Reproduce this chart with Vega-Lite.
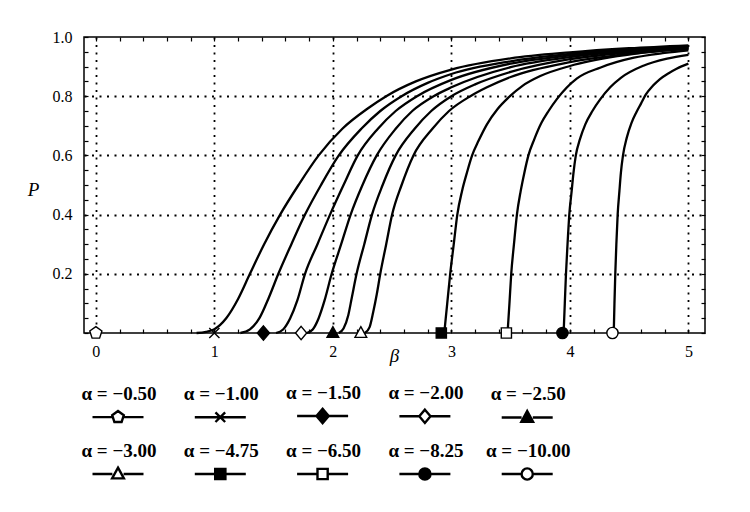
{
  "$schema": "https://vega.github.io/schema/vega-lite/v6.json",
  "width": 621,
  "height": 296,
  "autosize": {"type": "none"},
  "padding": {"left": 84, "top": 37, "right": 45, "bottom": 179},
  "background": "white",
  "config": {
    "view": {"stroke": "black", "strokeWidth": 1.5},
    "font": "Liberation Serif",
    "style": {"guide-label": {"lineHeight": 46}},
    "axis": {"labelFont": "Liberation Serif", "labelFontSize": 16, "labelColor": "black", "tickColor": "black", "tickWidth": 1.2, "domain": false, "labelOverlap": false, "titleFont": "Liberation Serif", "titleColor": "black"},
    "legend": {
      "symbolSize": 2601,
      "symbolStrokeWidth": 2.4,
      "labelFont": "Liberation Serif",
      "labelFontSize": 19,
      "labelFontWeight": "bold",
      "labelColor": "black",
      "labelAlign": "center",
      "labelBaseline": "line-bottom",
      "labelOffset": -26,
      "labelLimit": 0,
      "gridAlign": "all",
      "columnPadding": 16.3,
      "rowPadding": 14
    }
  },
  "datasets": {
    "curves": [
      {"alpha": -0.5, "beta": 0.85, "P": 0}, {"alpha": -0.5, "beta": 0.93, "P": 0.004}, {"alpha": -0.5, "beta": 1.0, "P": 0.013}, {"alpha": -0.5, "beta": 1.1, "P": 0.05}, {"alpha": -0.5, "beta": 1.2, "P": 0.115}, {"alpha": -0.5, "beta": 1.3, "P": 0.2}, {"alpha": -0.5, "beta": 1.42, "P": 0.3}, {"alpha": -0.5, "beta": 1.555, "P": 0.4}, {"alpha": -0.5, "beta": 1.71, "P": 0.5}, {"alpha": -0.5, "beta": 1.88, "P": 0.6}, {"alpha": -0.5, "beta": 2.08, "P": 0.69}, {"alpha": -0.5, "beta": 2.3, "P": 0.76}, {"alpha": -0.5, "beta": 2.45, "P": 0.8}, {"alpha": -0.5, "beta": 2.7, "P": 0.85}, {"alpha": -0.5, "beta": 3.0, "P": 0.89}, {"alpha": -0.5, "beta": 3.5, "P": 0.928}, {"alpha": -0.5, "beta": 4.0, "P": 0.948}, {"alpha": -0.5, "beta": 4.5, "P": 0.962}, {"alpha": -0.5, "beta": 5.0, "P": 0.972},
      {"alpha": -1, "beta": 1.22, "P": 0}, {"alpha": -1, "beta": 1.3, "P": 0.012}, {"alpha": -1, "beta": 1.38, "P": 0.05}, {"alpha": -1, "beta": 1.46, "P": 0.12}, {"alpha": -1, "beta": 1.54, "P": 0.2}, {"alpha": -1, "beta": 1.65, "P": 0.3}, {"alpha": -1, "beta": 1.765, "P": 0.4}, {"alpha": -1, "beta": 1.9, "P": 0.5}, {"alpha": -1, "beta": 2.05, "P": 0.6}, {"alpha": -1, "beta": 2.24, "P": 0.69}, {"alpha": -1, "beta": 2.4, "P": 0.75}, {"alpha": -1, "beta": 2.58, "P": 0.8}, {"alpha": -1, "beta": 2.8, "P": 0.845}, {"alpha": -1, "beta": 3.0, "P": 0.875}, {"alpha": -1, "beta": 3.5, "P": 0.918}, {"alpha": -1, "beta": 4.0, "P": 0.943}, {"alpha": -1, "beta": 4.5, "P": 0.958}, {"alpha": -1, "beta": 5.0, "P": 0.969},
      {"alpha": -1.5, "beta": 1.52, "P": 0}, {"alpha": -1.5, "beta": 1.58, "P": 0.012}, {"alpha": -1.5, "beta": 1.64, "P": 0.05}, {"alpha": -1.5, "beta": 1.7, "P": 0.11}, {"alpha": -1.5, "beta": 1.765, "P": 0.2}, {"alpha": -1.5, "beta": 1.87, "P": 0.3}, {"alpha": -1.5, "beta": 1.976, "P": 0.4}, {"alpha": -1.5, "beta": 2.09, "P": 0.5}, {"alpha": -1.5, "beta": 2.21, "P": 0.6}, {"alpha": -1.5, "beta": 2.38, "P": 0.69}, {"alpha": -1.5, "beta": 2.53, "P": 0.75}, {"alpha": -1.5, "beta": 2.71, "P": 0.8}, {"alpha": -1.5, "beta": 3.0, "P": 0.855}, {"alpha": -1.5, "beta": 3.5, "P": 0.91}, {"alpha": -1.5, "beta": 4.0, "P": 0.938}, {"alpha": -1.5, "beta": 4.5, "P": 0.955}, {"alpha": -1.5, "beta": 5.0, "P": 0.967},
      {"alpha": -2, "beta": 1.78, "P": 0}, {"alpha": -2, "beta": 1.83, "P": 0.012}, {"alpha": -2, "beta": 1.88, "P": 0.05}, {"alpha": -2, "beta": 1.93, "P": 0.11}, {"alpha": -2, "beta": 1.99, "P": 0.2}, {"alpha": -2, "beta": 2.07, "P": 0.3}, {"alpha": -2, "beta": 2.15, "P": 0.4}, {"alpha": -2, "beta": 2.25, "P": 0.5}, {"alpha": -2, "beta": 2.37, "P": 0.6}, {"alpha": -2, "beta": 2.53, "P": 0.69}, {"alpha": -2, "beta": 2.67, "P": 0.75}, {"alpha": -2, "beta": 2.85, "P": 0.8}, {"alpha": -2, "beta": 3.0, "P": 0.83}, {"alpha": -2, "beta": 3.5, "P": 0.898}, {"alpha": -2, "beta": 4.0, "P": 0.932}, {"alpha": -2, "beta": 4.5, "P": 0.952}, {"alpha": -2, "beta": 5.0, "P": 0.965},
      {"alpha": -2.5, "beta": 2.05, "P": 0}, {"alpha": -2.5, "beta": 2.09, "P": 0.015}, {"alpha": -2.5, "beta": 2.13, "P": 0.06}, {"alpha": -2.5, "beta": 2.16, "P": 0.12}, {"alpha": -2.5, "beta": 2.2, "P": 0.2}, {"alpha": -2.5, "beta": 2.265, "P": 0.3}, {"alpha": -2.5, "beta": 2.33, "P": 0.4}, {"alpha": -2.5, "beta": 2.42, "P": 0.5}, {"alpha": -2.5, "beta": 2.53, "P": 0.6}, {"alpha": -2.5, "beta": 2.69, "P": 0.69}, {"alpha": -2.5, "beta": 2.83, "P": 0.75}, {"alpha": -2.5, "beta": 3.0, "P": 0.8}, {"alpha": -2.5, "beta": 3.2, "P": 0.84}, {"alpha": -2.5, "beta": 3.5, "P": 0.882}, {"alpha": -2.5, "beta": 4.0, "P": 0.925}, {"alpha": -2.5, "beta": 4.5, "P": 0.948}, {"alpha": -2.5, "beta": 5.0, "P": 0.963},
      {"alpha": -3, "beta": 2.27, "P": 0}, {"alpha": -3, "beta": 2.31, "P": 0.02}, {"alpha": -3, "beta": 2.34, "P": 0.07}, {"alpha": -3, "beta": 2.37, "P": 0.13}, {"alpha": -3, "beta": 2.4, "P": 0.2}, {"alpha": -3, "beta": 2.45, "P": 0.3}, {"alpha": -3, "beta": 2.5, "P": 0.4}, {"alpha": -3, "beta": 2.58, "P": 0.5}, {"alpha": -3, "beta": 2.68, "P": 0.6}, {"alpha": -3, "beta": 2.84, "P": 0.69}, {"alpha": -3, "beta": 2.98, "P": 0.75}, {"alpha": -3, "beta": 3.16, "P": 0.8}, {"alpha": -3, "beta": 3.3, "P": 0.83}, {"alpha": -3, "beta": 3.5, "P": 0.865}, {"alpha": -3, "beta": 4.0, "P": 0.915}, {"alpha": -3, "beta": 4.5, "P": 0.943}, {"alpha": -3, "beta": 5.0, "P": 0.96},
      {"alpha": -4.75, "beta": 2.94, "P": 0}, {"alpha": -4.75, "beta": 2.965, "P": 0.1}, {"alpha": -4.75, "beta": 2.99, "P": 0.2}, {"alpha": -4.75, "beta": 3.02, "P": 0.3}, {"alpha": -4.75, "beta": 3.05, "P": 0.4}, {"alpha": -4.75, "beta": 3.09, "P": 0.48}, {"alpha": -4.75, "beta": 3.13, "P": 0.54}, {"alpha": -4.75, "beta": 3.175, "P": 0.6}, {"alpha": -4.75, "beta": 3.23, "P": 0.65}, {"alpha": -4.75, "beta": 3.3, "P": 0.705}, {"alpha": -4.75, "beta": 3.39, "P": 0.757}, {"alpha": -4.75, "beta": 3.48, "P": 0.795}, {"alpha": -4.75, "beta": 3.6, "P": 0.835}, {"alpha": -4.75, "beta": 3.75, "P": 0.868}, {"alpha": -4.75, "beta": 4.0, "P": 0.902}, {"alpha": -4.75, "beta": 4.4, "P": 0.935}, {"alpha": -4.75, "beta": 4.7, "P": 0.951}, {"alpha": -4.75, "beta": 5.0, "P": 0.961},
      {"alpha": -6.5, "beta": 3.474, "P": 0}, {"alpha": -6.5, "beta": 3.49, "P": 0.1}, {"alpha": -6.5, "beta": 3.505, "P": 0.2}, {"alpha": -6.5, "beta": 3.528, "P": 0.3}, {"alpha": -6.5, "beta": 3.553, "P": 0.4}, {"alpha": -6.5, "beta": 3.585, "P": 0.48}, {"alpha": -6.5, "beta": 3.615, "P": 0.54}, {"alpha": -6.5, "beta": 3.65, "P": 0.6}, {"alpha": -6.5, "beta": 3.7, "P": 0.655}, {"alpha": -6.5, "beta": 3.76, "P": 0.71}, {"alpha": -6.5, "beta": 3.82, "P": 0.75}, {"alpha": -6.5, "beta": 3.89, "P": 0.79}, {"alpha": -6.5, "beta": 4.06, "P": 0.86}, {"alpha": -6.5, "beta": 4.26, "P": 0.897}, {"alpha": -6.5, "beta": 4.54, "P": 0.93}, {"alpha": -6.5, "beta": 4.8, "P": 0.946}, {"alpha": -6.5, "beta": 5.0, "P": 0.955},
      {"alpha": -8.25, "beta": 3.947, "P": 0}, {"alpha": -8.25, "beta": 3.957, "P": 0.1}, {"alpha": -8.25, "beta": 3.967, "P": 0.2}, {"alpha": -8.25, "beta": 3.98, "P": 0.3}, {"alpha": -8.25, "beta": 3.995, "P": 0.4}, {"alpha": -8.25, "beta": 4.015, "P": 0.48}, {"alpha": -8.25, "beta": 4.03, "P": 0.54}, {"alpha": -8.25, "beta": 4.05, "P": 0.6}, {"alpha": -8.25, "beta": 4.085, "P": 0.655}, {"alpha": -8.25, "beta": 4.13, "P": 0.705}, {"alpha": -8.25, "beta": 4.19, "P": 0.75}, {"alpha": -8.25, "beta": 4.257, "P": 0.79}, {"alpha": -8.25, "beta": 4.34, "P": 0.83}, {"alpha": -8.25, "beta": 4.43, "P": 0.862}, {"alpha": -8.25, "beta": 4.62, "P": 0.903}, {"alpha": -8.25, "beta": 4.82, "P": 0.927}, {"alpha": -8.25, "beta": 5.0, "P": 0.94},
      {"alpha": -10, "beta": 4.37, "P": 0}, {"alpha": -10, "beta": 4.376, "P": 0.1}, {"alpha": -10, "beta": 4.383, "P": 0.2}, {"alpha": -10, "beta": 4.392, "P": 0.3}, {"alpha": -10, "beta": 4.403, "P": 0.4}, {"alpha": -10, "beta": 4.418, "P": 0.48}, {"alpha": -10, "beta": 4.43, "P": 0.54}, {"alpha": -10, "beta": 4.448, "P": 0.6}, {"alpha": -10, "beta": 4.48, "P": 0.66}, {"alpha": -10, "beta": 4.52, "P": 0.71}, {"alpha": -10, "beta": 4.56, "P": 0.745}, {"alpha": -10, "beta": 4.6, "P": 0.775}, {"alpha": -10, "beta": 4.64, "P": 0.805}, {"alpha": -10, "beta": 4.7, "P": 0.835}, {"alpha": -10, "beta": 4.76, "P": 0.858}, {"alpha": -10, "beta": 4.83, "P": 0.877}, {"alpha": -10, "beta": 4.9, "P": 0.893}, {"alpha": -10, "beta": 5.0, "P": 0.91}
    ],
    "markers": [
      {"alpha": -0.5, "beta": 0, "P": 0},
      {"alpha": -1, "beta": 1.0, "P": 0},
      {"alpha": -1.5, "beta": 1.414, "P": 0},
      {"alpha": -2, "beta": 1.732, "P": 0},
      {"alpha": -2.5, "beta": 2.0, "P": 0},
      {"alpha": -3, "beta": 2.236, "P": 0},
      {"alpha": -4.75, "beta": 2.915, "P": 0},
      {"alpha": -6.5, "beta": 3.464, "P": 0},
      {"alpha": -8.25, "beta": 3.937, "P": 0},
      {"alpha": -10, "beta": 4.359, "P": 0}
    ]
  },
  "resolve": {
    "axis": {"x": "independent", "y": "independent"},
    "scale": {"shape": "independent", "fill": "independent", "stroke": "independent"}
  },
  "layer": [
    {
      "data": {"name": "curves"},
      "mark": {"type": "line", "interpolate": "monotone", "stroke": "black", "strokeWidth": 2.3},
      "encoding": {
        "x": {
          "field": "beta", "type": "quantitative",
          "scale": {"domain": [-0.1, 5.14], "nice": false, "zero": false},
          "axis": {
            "orient": "bottom",
            "values": [0, 0.2, 0.4, 0.6, 0.8, 1, 1.2, 1.4, 1.6, 1.8, 2, 2.2, 2.4, 2.6, 2.8, 3, 3.2, 3.4, 3.6, 3.8, 4, 4.2, 4.4, 4.6, 4.8, 5],
            "labelExpr": "datum.value % 1 === 0 ? format(datum.value, 'd') : ''",
            "tickSize": -4,
            "labelPadding": 14,
            "grid": true,
            "gridColor": "black",
            "gridWidth": 1.8,
            "gridDash": [2, 5.5],
            "gridOpacity": {"condition": {"test": "datum.value % 1 === 0", "value": 1}, "value": 0},
            "title": "β",
            "titleFontStyle": "italic",
            "titleFontWeight": "normal",
            "titleFontSize": 19,
            "titleX": 310,
            "titleY": 28,
            "titleBaseline": "alphabetic"
          }
        },
        "y": {
          "field": "P", "type": "quantitative",
          "scale": {"domain": [0, 1], "nice": false},
          "axis": {
            "orient": "left",
            "values": [0, 0.05, 0.1, 0.15, 0.2, 0.25, 0.3, 0.35, 0.4, 0.45, 0.5, 0.55, 0.6, 0.65, 0.7, 0.75, 0.8, 0.85, 0.9, 0.95, 1],
            "labelExpr": "indexof([0.2, 0.4, 0.6, 0.8, 1], datum.value) >= 0 ? format(datum.value, '.1f') : ''",
            "tickSize": -4,
            "labelPadding": 16,
            "grid": true,
            "gridColor": "black",
            "gridWidth": 1.8,
            "gridDash": [2, 5.5],
            "gridOpacity": {"condition": {"test": "indexof([0.2, 0.4, 0.6, 0.8], datum.value) >= 0", "value": 1}, "value": 0},
            "title": "P",
            "titleAngle": 0,
            "titleFontStyle": "italic",
            "titleFontWeight": "normal",
            "titleFontSize": 19,
            "titleX": -51,
            "titleY": 152,
            "titleAlign": "center",
            "titleBaseline": "middle"
          }
        },
        "detail": {"field": "alpha", "type": "nominal"}
      }
    },
    {
      "data": {"name": "markers"},
      "mark": {"type": "point", "size": 2601, "stroke": "black", "strokeWidth": 1.4, "opacity": 1},
      "encoding": {
        "x": {
          "field": "beta", "type": "quantitative",
          "axis": {
            "orient": "top",
            "values": [0, 0.2, 0.4, 0.6, 0.8, 1, 1.2, 1.4, 1.6, 1.8, 2, 2.2, 2.4, 2.6, 2.8, 3, 3.2, 3.4, 3.6, 3.8, 4, 4.2, 4.4, 4.6, 4.8, 5],
            "labels": false, "grid": false, "tickSize": -4, "title": null
          }
        },
        "y": {
          "field": "P", "type": "quantitative",
          "axis": {
            "orient": "right",
            "values": [0, 0.05, 0.1, 0.15, 0.2, 0.25, 0.3, 0.35, 0.4, 0.45, 0.5, 0.55, 0.6, 0.65, 0.7, 0.75, 0.8, 0.85, 0.9, 0.95, 1],
            "labels": false, "grid": false, "tickSize": -4, "title": null
          }
        },
        "fill": {
          "field": "alpha", "type": "nominal", "legend": null,
          "scale": {
            "domain": [-0.5, -1, -1.5, -2, -2.5, -3, -4.75, -6.5, -8.25, -10],
            "range": ["white", "black", "black", "white", "black", "white", "black", "white", "black", "white"]
          }
        },
        "shape": {
          "field": "alpha", "type": "nominal", "legend": null,
          "scale": {
            "domain": [-0.5, -1, -1.5, -2, -2.5, -3, -4.75, -6.5, -8.25, -10],
            "range": [
              "M0,-0.25L0.238,-0.077L0.147,0.202L-0.147,0.202L-0.238,-0.077Z",
              "M-0.2,-0.2L0.2,0.2M-0.2,0.2L0.2,-0.2",
              "M0,-0.28L0.24,0L0,0.28L-0.24,0Z",
              "M0,-0.26L0.22,0L0,0.26L-0.22,0Z",
              "M0,-0.25L0.23,0.17L-0.23,0.17Z",
              "M0,-0.25L0.23,0.17L-0.23,0.17Z",
              "M-0.2,-0.2L0.2,-0.2L0.2,0.2L-0.2,0.2Z",
              "M-0.2,-0.2L0.2,-0.2L0.2,0.2L-0.2,0.2Z",
              "M0.22,0A0.22,0.22,0,1,1,-0.22,0A0.22,0.22,0,1,1,0.22,0Z",
              "M0.22,0A0.22,0.22,0,1,1,-0.22,0A0.22,0.22,0,1,1,0.22,0Z"
            ]
          }
        }
      }
    },
    {
      "data": {"name": "markers"},
      "transform": [{"filter": "false"}],
      "mark": {"type": "point", "size": 2601, "strokeWidth": 2.4, "opacity": 1},
      "encoding": {
        "fill": {
          "field": "alpha", "type": "nominal",
          "scale": {
            "domain": [-0.5, -1, -1.5, -2, -2.5, -3, -4.75, -6.5, -8.25, -10],
            "range": ["white", "black", "black", "white", "black", "white", "black", "white", "black", "white"]
          },
          "legend": {"title": null, "orient": "none", "legendX": 7, "legendY": 352, "direction": "horizontal", "columns": 5, "labelExpr": "'α = −' + format(-datum.value, '.2f')"}
        },
        "stroke": {
          "field": "alpha", "type": "nominal",
          "scale": {
            "domain": [-0.5, -1, -1.5, -2, -2.5, -3, -4.75, -6.5, -8.25, -10],
            "range": ["black", "black", "black", "black", "black", "black", "black", "black", "black", "black"]
          },
          "legend": {"title": null, "orient": "none", "legendX": 7, "legendY": 352, "direction": "horizontal", "columns": 5, "labelExpr": "'α = −' + format(-datum.value, '.2f')"}
        },
        "shape": {
          "field": "alpha", "type": "nominal",
          "scale": {
            "domain": [-0.5, -1, -1.5, -2, -2.5, -3, -4.75, -6.5, -8.25, -10],
            "range": [
              "M-1,0L-0.22,0M0.22,0L1,0M0,-0.24L0.228,-0.074L0.141,0.194L-0.141,0.194L-0.228,-0.074Z",
              "M-1,0L1,0M-0.19,-0.19L0.19,0.19M-0.19,0.19L0.19,-0.19",
              "M-1,0L-0.22,0M0.22,0L1,0M0,-0.28L0.24,0L0,0.28L-0.24,0Z",
              "M-1,0L-0.22,0M0.22,0L1,0M0,-0.26L0.22,0L0,0.26L-0.22,0Z",
              "M-1,0L-0.22,0M0.22,0L1,0M0,-0.25L0.23,0.17L-0.23,0.17Z",
              "M-1,0L-0.22,0M0.22,0L1,0M0,-0.25L0.23,0.17L-0.23,0.17Z",
              "M-1,0L-0.2,0M0.2,0L1,0M-0.2,-0.2L0.2,-0.2L0.2,0.2L-0.2,0.2Z",
              "M-1,0L-0.2,0M0.2,0L1,0M-0.2,-0.2L0.2,-0.2L0.2,0.2L-0.2,0.2Z",
              "M-1,0L-0.22,0M0.22,0L1,0M0.22,0A0.22,0.22,0,1,1,-0.22,0A0.22,0.22,0,1,1,0.22,0Z",
              "M-1,0L-0.22,0M0.22,0L1,0M0.22,0A0.22,0.22,0,1,1,-0.22,0A0.22,0.22,0,1,1,0.22,0Z"
            ]
          },
          "legend": {"title": null, "orient": "none", "legendX": 7, "legendY": 352, "direction": "horizontal", "columns": 5, "labelExpr": "'α = −' + format(-datum.value, '.2f')"}
        }
      }
    }
  ]
}
